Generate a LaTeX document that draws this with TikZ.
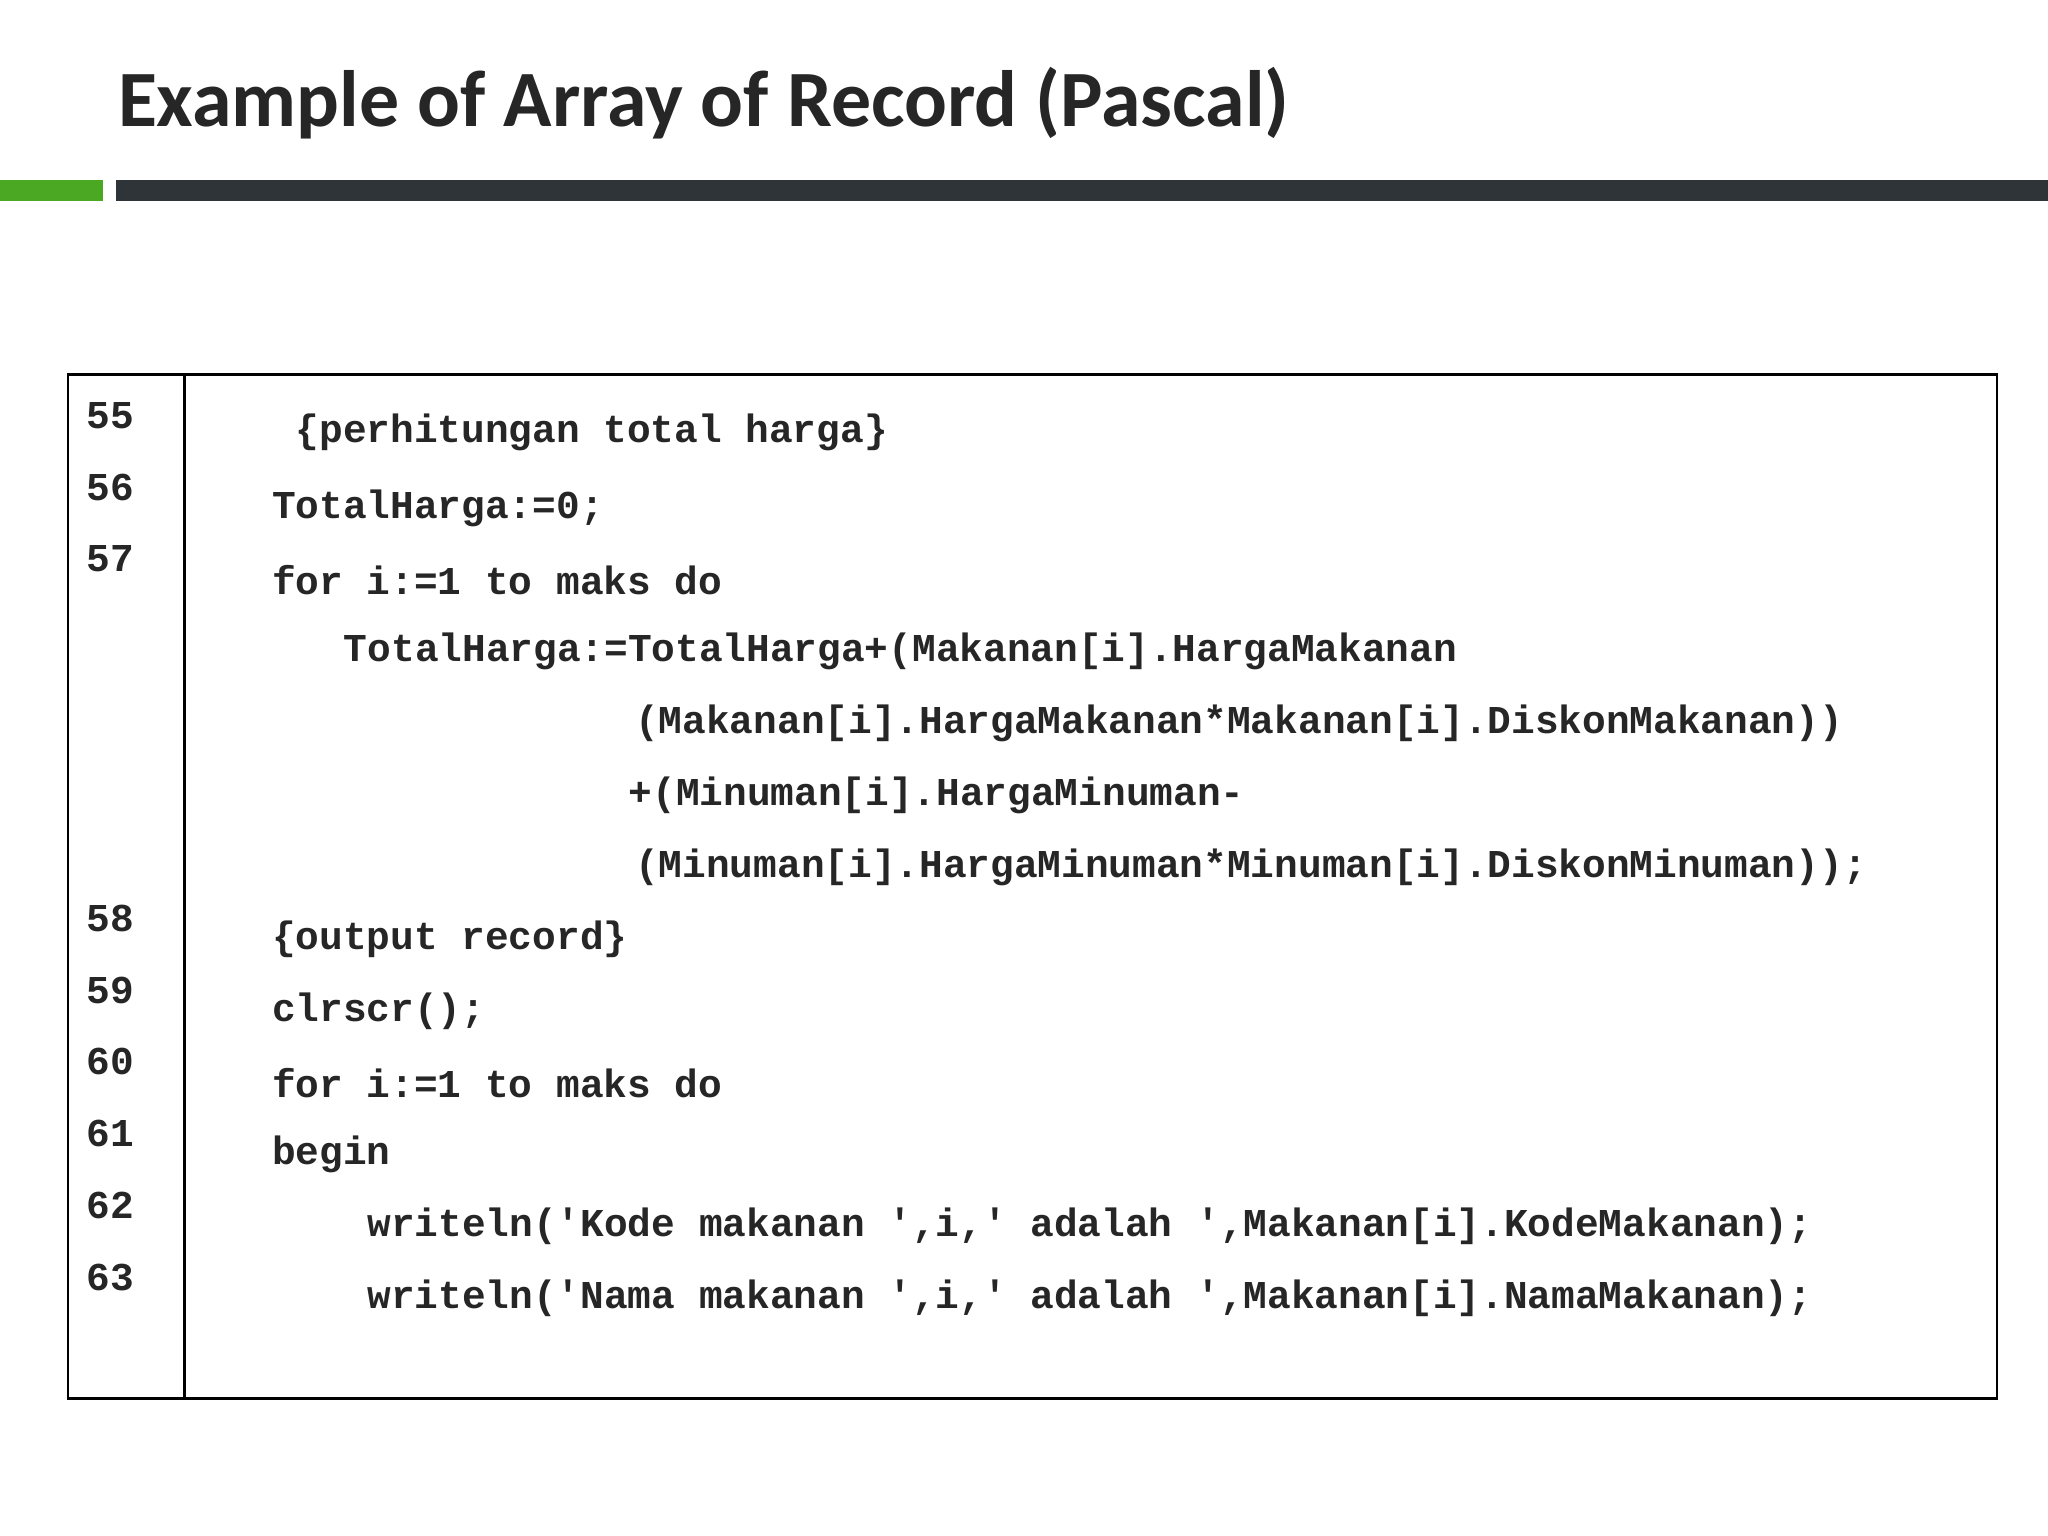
\documentclass[tikz,border=0pt]{standalone}
\usepackage{fontspec}
\setmainfont{Carlito}
\newfontfamily\code{Liberation Mono}[Scale=1.0]
\definecolor{barDark}{HTML}{2E3437}
\definecolor{barGreen}{HTML}{4BA823}
\begin{document}
\begin{tikzpicture}[x=0.02cm,y=-0.02cm,
  cl/.style={anchor=west,inner sep=0pt,font=\code\bfseries\fontsize{17.2}{17.2}\selectfont,text=black!85},
  ln/.style={cl}]
\useasboundingbox (0,0) rectangle (1568,1176);
\fill[white] (0,0) rectangle (1568,1176);
\node[anchor=west,inner sep=0pt,font=\bfseries\fontsize{34.8}{34.8}\selectfont,text=black!85] (title) at (90,79) {Example of Array of Record (Pascal)};
\fill[barGreen] (0,138) rectangle (79,154);
\fill[barDark] (89,138) rectangle (1568,154);
\draw[line width=1.2pt] (52,287) rectangle (1529,1071);
\draw[line width=1.2pt] (141,287) -- (141,1071);
\node[ln] (n55) at (66,318) {55};
\node[ln] (n56) at (66,373) {56};
\node[ln] (n57) at (66,428) {57};
\node[ln] (n58) at (66,703) {58};
\node[ln] (n59) at (66,758) {59};
\node[ln] (n60) at (66,813) {60};
\node[ln] (n61) at (66,868) {61};
\node[ln] (n62) at (66,923) {62};
\node[ln] (n63) at (66,978) {63};
\node[cl] (c1) at (226,331) {\{perhitungan total harga\}};
\node[cl] (c2) at (208,389) {TotalHarga:=0;};
\node[cl] (c3) at (208,444) {for i:=1 to maks do};
\node[cl] (c4) at (263,499) {TotalHarga:=TotalHarga+(Makanan[i].HargaMakanan};
\node[cl] (c5) at (486,554) {(Makanan[i].HargaMakanan*Makanan[i].DiskonMakanan))};
\node[cl] (c6) at (481,609) {+(Minuman[i].HargaMinuman-};
\node[cl] (c7) at (486,664) {(Minuman[i].HargaMinuman*Minuman[i].DiskonMinuman));};
\node[cl] (c8) at (208,719) {\{output record\}};
\node[cl] (c9) at (208,774) {clrscr();};
\node[cl] (c10) at (208,829) {for i:=1 to maks do};
\node[cl] (c11) at (208,884) {begin};
\node[cl] (c12) at (281,939) {writeln('Kode makanan ',i,' adalah ',Makanan[i].KodeMakanan);};
\node[cl] (c13) at (281,994) {writeln('Nama makanan ',i,' adalah ',Makanan[i].NamaMakanan);};
\end{tikzpicture}
\end{document}
